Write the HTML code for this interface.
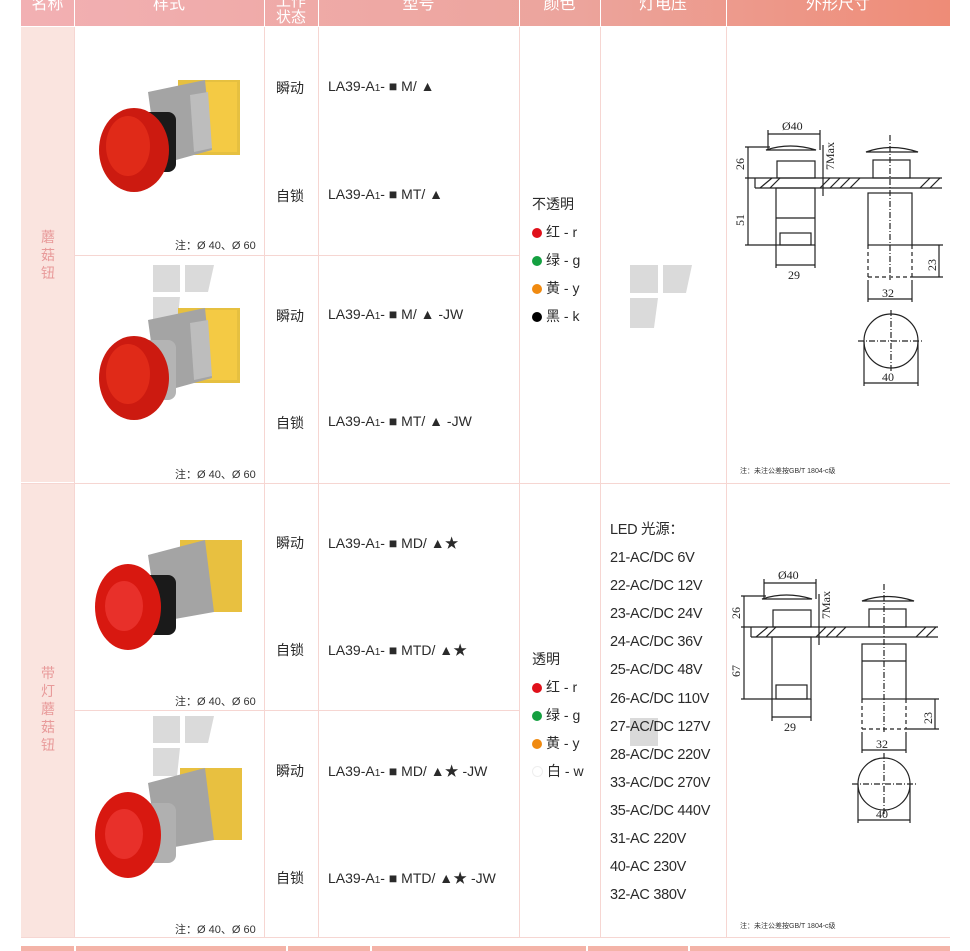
<!DOCTYPE html>
<html><head><meta charset="utf-8"><style>
body{margin:0;width:970px;height:951px;background:#fff;position:relative;overflow:hidden;font-family:"Liberation Sans","Noto Sans CJK SC",sans-serif;}
.a{position:absolute;white-space:nowrap;}
.hd{position:absolute;top:0;height:26px;color:#fff;font-size:16px;text-align:center;line-height:14px;}
.t{font-size:14px;color:#2a2a2a;}
.nm{position:absolute;left:21px;width:53px;background:#fae4df;}
.vn{position:absolute;left:40px;width:16px;font-size:14px;line-height:18px;color:#e89a9a;text-align:center;}
.v{font-size:14.5px;color:#2a2a2a;letter-spacing:-0.3px;}
.dot{display:inline-block;width:10px;height:10px;border-radius:50%;margin-right:4px;vertical-align:-1px;}
.note{font-size:11px;color:#333;}
.sn{font-size:7px;color:#333;}
</style></head><body>
<div class="a" style="left:21px;top:0;width:929px;height:26px;background:linear-gradient(90deg,#f2b0b3,#eca49c 60%,#ee8c77);"></div>
<div class="hd" style="left:21px;width:53px;line-height:10px;">名称</div>
<div class="hd" style="left:74px;width:190px;line-height:10px;">样式</div>
<div class="hd" style="left:264px;width:54px;font-size:15px;line-height:16px;top:-6px;">工作<br>状态</div>
<div class="hd" style="left:318px;width:201px;line-height:10px;">型号</div>
<div class="hd" style="left:519px;width:81px;line-height:10px;">颜色</div>
<div class="hd" style="left:600px;width:126px;line-height:10px;">灯电压</div>
<div class="hd" style="left:726px;width:224px;line-height:10px;">外形尺寸</div>
<div class="a" style="left:74px;top:0;width:1px;height:26px;background:#fff"></div>
<div class="a" style="left:264px;top:0;width:1px;height:26px;background:#fff"></div>
<div class="a" style="left:318px;top:0;width:1px;height:26px;background:#fff"></div>
<div class="a" style="left:519px;top:0;width:1px;height:26px;background:#fff"></div>
<div class="a" style="left:600px;top:0;width:1px;height:26px;background:#fff"></div>
<div class="a" style="left:726px;top:0;width:1px;height:26px;background:#fff"></div>

<div class="nm" style="top:27px;height:455px;"></div>
<div class="nm" style="top:484px;height:453px;"></div>
<div class="vn" style="top:228px;">蘑<br>菇<br>钮</div>
<div class="vn" style="top:664px;">带<br>灯<br>蘑<br>菇<br>钮</div>

<svg class="a" style="left:0;top:0" width="970" height="951">
<g stroke="#f6d6d2" stroke-width="1">
<line x1="74.5" y1="27" x2="74.5" y2="937"/>
<line x1="264.5" y1="27" x2="264.5" y2="937"/>
<line x1="318.5" y1="27" x2="318.5" y2="937"/>
<line x1="519.5" y1="27" x2="519.5" y2="937"/>
<line x1="600.5" y1="27" x2="600.5" y2="937"/>
<line x1="726.5" y1="27" x2="726.5" y2="937"/>
<line x1="74" y1="255.5" x2="519" y2="255.5"/>
<line x1="74" y1="710.5" x2="519" y2="710.5"/>
<line x1="21" y1="483.5" x2="950" y2="483.5"/>
<line x1="21" y1="937.5" x2="950" y2="937.5"/>
</g>
<rect x="21" y="946" width="929" height="5" fill="#f4b3a8"/>
<g fill="#fff"><rect x="74" y="946" width="2" height="5"/><rect x="286" y="946" width="2" height="5"/><rect x="370" y="946" width="2" height="5"/><rect x="586" y="946" width="2" height="5"/><rect x="688" y="946" width="2" height="5"/></g>
<g fill="#dadada">
<polygon points="630,265 658,265 658,293 630,293"/><polygon points="663,265 692,265 686,293 663,293"/><polygon points="630,298 658,298 654,328 630,328"/>
<polygon points="153,265 180,265 180,292 153,292"/><polygon points="185,265 214,265 208,292 185,292"/><polygon points="153,297 180,297 177,326 153,326"/>
<polygon points="153,716 180,716 180,743 153,743"/><polygon points="185,716 214,716 208,743 185,743"/><polygon points="153,748 180,748 177,776 153,776"/>
<polygon points="630,718 658,718 658,746 630,746"/>
</g>

<g>
<rect x="178" y="80" width="62" height="75" fill="#e6c040"/><rect x="205" y="82" width="32" height="70" fill="#f4ca44"/>
<polygon points="148,92 205,80 212,150 158,165" fill="#a4a4a4"/><polygon points="190,95 208,92 212,148 194,152" fill="#bdbdbd"/>
<rect x="138" y="112" width="38" height="60" rx="8" fill="#1a1a1a"/>
<ellipse cx="134" cy="150" rx="35" ry="42" fill="#cc1a10"/><ellipse cx="128" cy="146" rx="22" ry="30" fill="#e02a18"/>
</g>
<g>
<rect x="178" y="308" width="62" height="75" fill="#e6c040"/><rect x="205" y="310" width="32" height="70" fill="#f4ca44"/>
<polygon points="148,320 205,308 212,378 158,393" fill="#a4a4a4"/><polygon points="190,323 208,320 212,376 194,380" fill="#bdbdbd"/>
<rect x="138" y="340" width="38" height="60" rx="8" fill="#b4b4b4"/>
<ellipse cx="134" cy="378" rx="35" ry="42" fill="#cc1a10"/><ellipse cx="128" cy="374" rx="22" ry="30" fill="#e02a18"/>
</g>
<g>
<rect x="180" y="540" width="62" height="72" fill="#e8c040"/>
<polygon points="148,555 205,540 214,612 158,622" fill="#a4a4a4"/>
<rect x="130" y="575" width="46" height="60" rx="8" fill="#1a1a1a"/>
<ellipse cx="128" cy="607" rx="33" ry="43" fill="#d81810"/><ellipse cx="124" cy="606" rx="19" ry="25" fill="#e8302a"/>
</g>
<g>
<rect x="180" y="768" width="62" height="72" fill="#e8c040"/>
<polygon points="148,783 205,768 214,840 158,850" fill="#a4a4a4"/>
<rect x="130" y="803" width="46" height="60" rx="8" fill="#b0b0b0"/>
<ellipse cx="128" cy="835" rx="33" ry="43" fill="#d81810"/><ellipse cx="124" cy="834" rx="19" ry="25" fill="#e8302a"/>
</g>

<g stroke="#222" stroke-width="1.2" fill="none" font-family="Liberation Serif" font-size="12">
<line x1="768" y1="134" x2="820" y2="134"/><line x1="768" y1="130" x2="768" y2="150"/><line x1="820" y1="130" x2="820" y2="150"/>
<path d="M766 150 Q790 142 816 150 Z"/>
<rect x="777" y="161" width="38" height="17"/>
<line x1="745" y1="178" x2="942" y2="178"/><line x1="755" y1="188" x2="942" y2="188"/><line x1="755" y1="178" x2="755" y2="188"/>
<line x1="760" y1="188" x2="772" y2="178"/><line x1="770" y1="188" x2="780" y2="178"/><line x1="820" y1="188" x2="830" y2="178"/><line x1="830" y1="188" x2="840" y2="178"/><line x1="840" y1="188" x2="850" y2="178"/><line x1="850" y1="188" x2="860" y2="178"/><line x1="920" y1="188" x2="930" y2="178"/><line x1="930" y1="188" x2="940" y2="178"/>
<rect x="776" y="188" width="39" height="57"/><line x1="776" y1="218" x2="815" y2="218"/><rect x="780" y="233" width="31" height="12"/>
<line x1="748" y1="147" x2="748" y2="245"/><line x1="745" y1="147" x2="770" y2="147"/><line x1="745" y1="245" x2="776" y2="245"/>
<line x1="823" y1="145" x2="823" y2="196"/>
<line x1="776" y1="245" x2="776" y2="268"/><line x1="815" y1="245" x2="815" y2="268"/><line x1="776" y1="265" x2="815" y2="265"/>
<path d="M866 152 Q891 143 918 152 Z"/>
<rect x="873" y="160" width="37" height="18"/>
<rect x="868" y="193" width="44" height="52"/>
<path d="M868 245 V277 M912 245 V277 M868 277 H912" stroke-dasharray="4,3"/>
<line x1="890" y1="135" x2="890" y2="280" stroke-dasharray="6,2,1,2"/>
<line x1="912" y1="245" x2="943" y2="245"/><line x1="912" y1="277" x2="943" y2="277"/><line x1="939" y1="245" x2="939" y2="277"/>
<line x1="868" y1="280" x2="868" y2="302"/><line x1="912" y1="280" x2="912" y2="302"/><line x1="868" y1="299" x2="912" y2="299"/>
<circle cx="891" cy="341" r="27"/><line x1="858" y1="341" x2="924" y2="341" stroke-dasharray="6,2,1,2"/><line x1="891" y1="310" x2="891" y2="372" stroke-dasharray="6,2,1,2"/>
<line x1="864" y1="341" x2="864" y2="386"/><line x1="918" y1="341" x2="918" y2="386"/><line x1="864" y1="383" x2="918" y2="383"/>
<g fill="#222" stroke="none">
<text x="782" y="130">Ø40</text><text x="788" y="279">29</text><text x="882" y="297">32</text><text x="882" y="381">40</text>
<text transform="translate(744,170) rotate(-90)">26</text><text transform="translate(744,226) rotate(-90)">51</text>
<text transform="translate(834,170) rotate(-90)">7Max</text><text transform="translate(936,271) rotate(-90)">23</text>
</g>
</g>
<g transform="translate(-4,449)" stroke="#222" stroke-width="1.2" fill="none" font-family="Liberation Serif" font-size="12">
<line x1="768" y1="134" x2="820" y2="134"/><line x1="768" y1="130" x2="768" y2="150"/><line x1="820" y1="130" x2="820" y2="150"/>
<path d="M766 150 Q790 142 816 150 Z"/>
<rect x="777" y="161" width="38" height="17"/>
<line x1="745" y1="178" x2="942" y2="178"/><line x1="755" y1="188" x2="942" y2="188"/><line x1="755" y1="178" x2="755" y2="188"/>
<line x1="760" y1="188" x2="772" y2="178"/><line x1="770" y1="188" x2="780" y2="178"/><line x1="820" y1="188" x2="830" y2="178"/><line x1="830" y1="188" x2="840" y2="178"/><line x1="840" y1="188" x2="850" y2="178"/><line x1="920" y1="188" x2="930" y2="178"/><line x1="930" y1="188" x2="940" y2="178"/>
<rect x="776" y="188" width="39" height="62"/><rect x="780" y="236" width="31" height="14"/>
<line x1="748" y1="147" x2="748" y2="250"/><line x1="745" y1="147" x2="770" y2="147"/><line x1="745" y1="250" x2="776" y2="250"/>
<line x1="823" y1="145" x2="823" y2="196"/>
<line x1="776" y1="250" x2="776" y2="272"/><line x1="815" y1="250" x2="815" y2="272"/><line x1="776" y1="268" x2="815" y2="268"/>
<path d="M866 152 Q891 143 918 152 Z"/>
<rect x="873" y="160" width="37" height="18"/>
<rect x="866" y="195" width="44" height="55"/><line x1="866" y1="212" x2="910" y2="212"/>
<path d="M866 250 V280 M910 250 V280 M866 280 H910" stroke-dasharray="4,3"/>
<line x1="888" y1="135" x2="888" y2="283" stroke-dasharray="6,2,1,2"/>
<line x1="910" y1="250" x2="943" y2="250"/><line x1="910" y1="280" x2="943" y2="280"/><line x1="939" y1="250" x2="939" y2="280"/>
<line x1="866" y1="283" x2="866" y2="304"/><line x1="910" y1="283" x2="910" y2="304"/><line x1="866" y1="301" x2="910" y2="301"/>
<circle cx="888" cy="335" r="26"/><line x1="856" y1="335" x2="920" y2="335" stroke-dasharray="6,2,1,2"/><line x1="888" y1="304" x2="888" y2="366" stroke-dasharray="6,2,1,2"/>
<line x1="862" y1="335" x2="862" y2="374"/><line x1="914" y1="335" x2="914" y2="374"/><line x1="862" y1="371" x2="914" y2="371"/>
<g fill="#222" stroke="none">
<text x="782" y="130">Ø40</text><text x="788" y="282">29</text><text x="880" y="299">32</text><text x="880" y="369">40</text>
<text transform="translate(744,170) rotate(-90)">26</text><text transform="translate(744,228) rotate(-90)">67</text>
<text transform="translate(834,170) rotate(-90)">7Max</text><text transform="translate(936,275) rotate(-90)">23</text>
</g>
</g>
</svg>

<div class="a note" style="left:175px;top:237px;">注：Ø 40、Ø 60</div>
<div class="a note" style="left:175px;top:466px;">注：Ø 40、Ø 60</div>
<div class="a note" style="left:175px;top:693px;">注：Ø 40、Ø 60</div>
<div class="a note" style="left:175px;top:921px;">注：Ø 40、Ø 60</div>

<div class="a t" style="left:276px;top:78px;">瞬动</div><div class="a t" style="left:328px;top:78px;">LA39-A<span style="font-size:10px">1</span>- ■ M/ ▲</div>
<div class="a t" style="left:276px;top:186px;">自锁</div><div class="a t" style="left:328px;top:186px;">LA39-A<span style="font-size:10px">1</span>- ■ MT/ ▲</div>
<div class="a t" style="left:276px;top:306px;">瞬动</div><div class="a t" style="left:328px;top:306px;">LA39-A<span style="font-size:10px">1</span>- ■ M/ ▲ -JW</div>
<div class="a t" style="left:276px;top:413px;">自锁</div><div class="a t" style="left:328px;top:413px;">LA39-A<span style="font-size:10px">1</span>- ■ MT/ ▲ -JW</div>
<div class="a t" style="left:276px;top:533px;">瞬动</div><div class="a t" style="left:328px;top:533px;">LA39-A<span style="font-size:10px">1</span>- ■ MD/ ▲★</div>
<div class="a t" style="left:276px;top:640px;">自锁</div><div class="a t" style="left:328px;top:640px;">LA39-A<span style="font-size:10px">1</span>- ■ MTD/ ▲★</div>
<div class="a t" style="left:276px;top:761px;">瞬动</div><div class="a t" style="left:328px;top:761px;">LA39-A<span style="font-size:10px">1</span>- ■ MD/ ▲★ -JW</div>
<div class="a t" style="left:276px;top:868px;">自锁</div><div class="a t" style="left:328px;top:868px;">LA39-A<span style="font-size:10px">1</span>- ■ MTD/ ▲★ -JW</div>

<div class="a t" style="left:532px;top:190px;line-height:28px;">不透明<br><span class="dot" style="background:#e0101a"></span>红 - r<br><span class="dot" style="background:#14a040"></span>绿 - g<br><span class="dot" style="background:#f08a10"></span>黄 - y<br><span class="dot" style="background:#000"></span>黑 - k</div>
<div class="a t" style="left:532px;top:645px;line-height:28px;">透明<br><span class="dot" style="background:#e0101a"></span>红 - r<br><span class="dot" style="background:#14a040"></span>绿 - g<br><span class="dot" style="background:#f08a10"></span>黄 - y<br><span class="dot" style="background:#fff;border:1px solid #eee;width:9px;height:9px"></span>白 - w</div>

<div class="a v" style="left:610px;top:516px;line-height:28.1px;">LED 光源：<br>21-AC/DC 6V<br>22-AC/DC 12V<br>23-AC/DC 24V<br>24-AC/DC 36V<br>25-AC/DC 48V<br>26-AC/DC 110V<br>27-AC/DC 127V<br>28-AC/DC 220V<br>33-AC/DC 270V<br>35-AC/DC 440V<br>31-AC 220V<br>40-AC 230V<br>32-AC 380V</div>

<div class="a sn" style="left:740px;top:466px;">注：未注公差按GB/T 1804-c级</div>
<div class="a sn" style="left:740px;top:921px;">注：未注公差按GB/T 1804-c级</div>
</body></html>
